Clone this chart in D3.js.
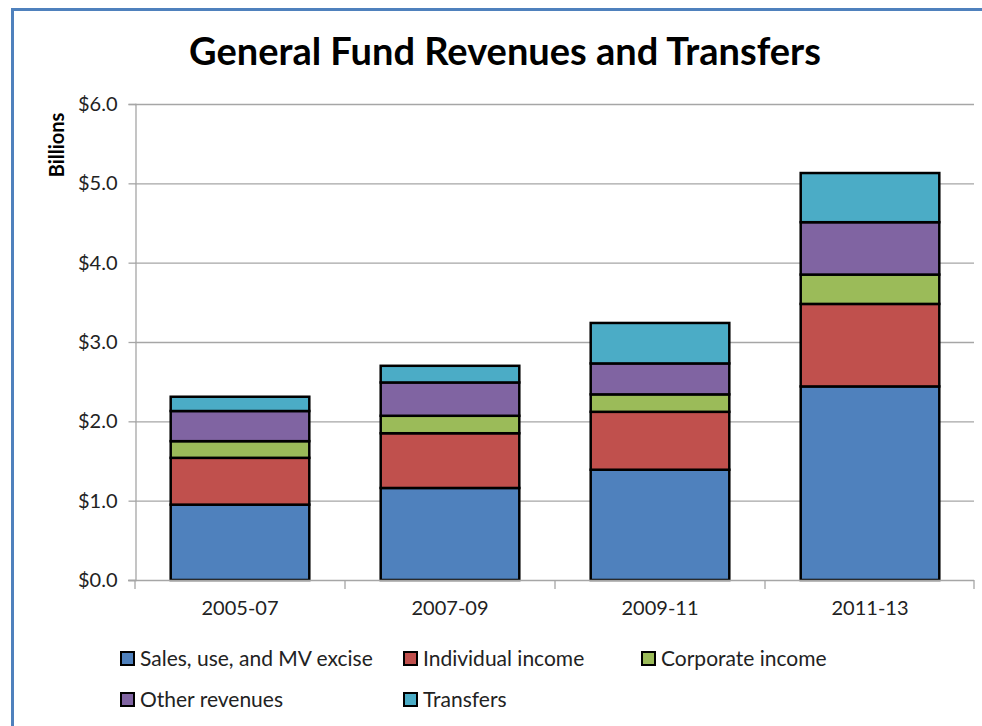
<!DOCTYPE html>
<html><head><meta charset="utf-8">
<script src="https://cdn.jsdelivr.net/npm/d3@7"></script>
<style>body{margin:0;background:#fff;} svg{display:block;}</style>
</head><body>
<script>
const categories = ["2005-07","2007-09","2009-11","2011-13"];
const seriesNames = ["Sales, use, and MV excise","Individual income","Corporate income","Other revenues","Transfers"];
const salesValues = [0.95,1.16,1.39,2.44];
const individualValues = [0.59,0.69,0.73,1.04];
const corporateValues = [0.21,0.22,0.22,0.37];
const otherValues = [0.38,0.42,0.39,0.66];
const transferValues = [0.18,0.21,0.51,0.62];
const yTicks = [0,1,2,3,4,5,6];
const colors = ["#4f81bd","#c0504d","#9bbb59","#8064a2","#4bacc6"];

const W=982,H=726;
const svg=d3.select("body").append("svg").attr("width",W).attr("height",H);
const font="Lato, 'Open Sans', sans-serif";

// frame border
svg.append("line").attr("x1",12.5).attr("x2",12.5).attr("y1",8).attr("y2",H).attr("stroke","#4f81bd").attr("stroke-width",3);
svg.append("line").attr("x1",11).attr("x2",W).attr("y1",9.5).attr("y2",9.5).attr("stroke","#4f81bd").attr("stroke-width",3);

const x=d3.scaleBand().domain(categories).range([135,975]).paddingInner(0.34).paddingOuter(0.17);
const y=d3.scaleLinear().domain([0,6]).range([580,104]);

// gridlines
svg.append("g").selectAll("line").data(yTicks.slice(1)).join("line")
 .attr("x1",135).attr("x2",974).attr("y1",d=>y(d)+0.5).attr("y2",d=>y(d)+0.5)
 .attr("stroke","#a6a6a6").attr("stroke-width",1.3);

// y axis
const yAx=svg.append("g").attr("transform","translate(135.5,0)")
 .call(d3.axisLeft(y).tickValues(yTicks).tickSize(7).tickPadding(11).tickFormat(d=>"$"+d3.format(".1f")(d)));
yAx.select(".domain").attr("stroke","#a6a6a6").attr("stroke-width",1.3);
yAx.selectAll(".tick line").attr("stroke","#a6a6a6").attr("stroke-width",1.3);
yAx.selectAll("text").attr("font-family",font).attr("font-size",20).attr("fill","#222");

// stacked bars
const data=categories.map((c,i)=>({cat:c,s0:salesValues[i],s1:individualValues[i],s2:corporateValues[i],s3:otherValues[i],s4:transferValues[i]}));
const stack=d3.stack().keys(["s0","s1","s2","s3","s4"])(data);
svg.append("g").selectAll("g").data(stack).join("g").attr("fill",(d,i)=>colors[i])
 .selectAll("rect").data(d=>d).join("rect")
 .attr("x",d=>x(d.data.cat)).attr("width",x.bandwidth())
 .attr("y",d=>y(d[1])).attr("height",d=>y(d[0])-y(d[1]))
 .attr("stroke","#000").attr("stroke-width",2.5);

// x axis
const xAx=svg.append("g").attr("transform","translate(0,580.5)")
 .call(d3.axisBottom(x).tickSize(0).tickPadding(20));
xAx.select(".domain").remove();
svg.append("line").attr("x1",128).attr("x2",974).attr("y1",580.5).attr("y2",580.5).attr("stroke","#a6a6a6").attr("stroke-width",1.3);
const bounds=[135,345,555,765,974];
svg.append("g").selectAll("line").data(bounds).join("line")
 .attr("x1",d=>d).attr("x2",d=>d).attr("y1",580).attr("y2",589).attr("stroke","#a6a6a6").attr("stroke-width",1.3);
xAx.selectAll("text").attr("font-family",font).attr("font-size",20).attr("fill","#222");

// title
svg.append("text").attr("x",505).attr("y",65).attr("text-anchor","middle")
 .attr("font-family",font).attr("font-weight","bold").attr("font-size",38).attr("fill","#000")
 .text("General Fund Revenues and Transfers");

// y title
svg.append("text").attr("transform","translate(64,145) rotate(-90)").attr("text-anchor","middle")
 .attr("font-family",font).attr("font-weight","bold").attr("font-size",20).attr("fill","#000").text("Billions");

// legend
const legPos=[[121,659],[404,659],[642,659],[121,700],[404,700]];
const leg=svg.append("g").selectAll("g").data(seriesNames).join("g")
 .attr("transform",(d,i)=>`translate(${legPos[i][0]},${legPos[i][1]})`);
leg.append("rect").attr("x",0).attr("y",-7).attr("width",13).attr("height",13)
 .attr("fill",(d,i)=>colors[i]).attr("stroke","#000").attr("stroke-width",2);
leg.append("text").attr("x",19).attr("y",7).attr("font-family",font).attr("font-size",21).attr("fill","#222").text(d=>d);
</script>
</body></html>
